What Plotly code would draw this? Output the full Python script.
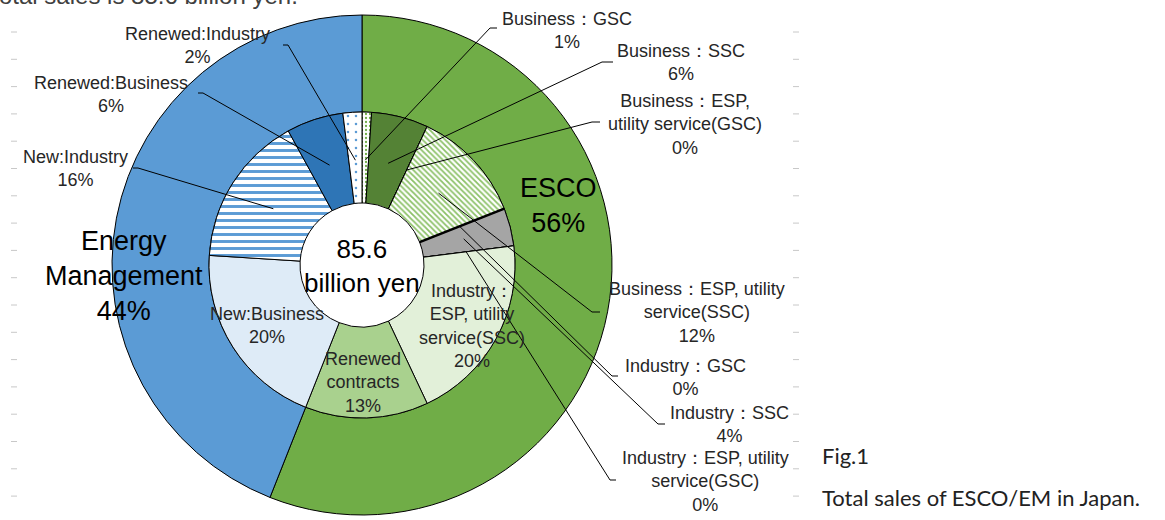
import math
import plotly.graph_objects as go

W, H = 1165, 520

# ---------------- data ----------------
outer_labels = ["ESCO", "Energy Management"]
outer_values = [56, 44]
outer_colors = ["#70AD47", "#5B9BD5"]

inner_labels = [
    "Business：GSC",
    "Business：SSC",
    "Business：ESP, utility service(GSC)",
    "Business：ESP, utility service(SSC)",
    "Industry：GSC",
    "Industry：SSC",
    "Industry：ESP, utility service(GSC)",
    "Industry：ESP, utility service(SSC)",
    "Renewed contracts",
    "New:Business",
    "New:Industry",
    "Renewed:Business",
    "Renewed:Industry",
]
inner_values = [1, 6, 0, 12, 0, 4, 0, 20, 13, 20, 16, 6, 2]
inner_colors = ["#FFFFFF", "#548235", "#FFFFFF", "#FFFFFF", "#FFFFFF", "#A5A5A5", "#FFFFFF",
                "#E2F0D9", "#A9D18E", "#DEEBF7", "#FFFFFF", "#2E75B6", "#FFFFFF"]
pattern_shapes = [".", "", "", "\\", "", "", "", "", "", "", "-", "", "."]
pattern_fg = ["#70AD47", "#548235", "#70AD47", "#8CC168", "#A5A5A5", "#A5A5A5", "#E2F0D9",
              "#E2F0D9", "#A9D18E", "#DEEBF7", "#5B9BD5", "#2E75B6", "#5B9BD5"]
pattern_size = [4, 8, 8, 4, 8, 8, 8, 8, 8, 8, 7, 8, 8]
pattern_solidity = [0.25, 0.3, 0.3, 0.45, 0.3, 0.3, 0.3, 0.3, 0.3, 0.3, 0.42, 0.3, 0.08]

# label texts (display)
inner_label_text = [
    "Business：GSC",
    "Business：SSC",
    "Business：ESP,<br>utility service(GSC)",
    "Business：ESP, utility<br>service(SSC)",
    "Industry：GSC",
    "Industry：SSC",
    "Industry：ESP, utility<br>service(GSC)",
    "Industry：<br>ESP, utility<br>service(SSC)",
    "Renewed<br>contracts",
    "New:Business",
    "New:Industry",
    "Renewed:Business",
    "Renewed:Industry",
]
center_text = "85.6<br>billion yen"
title_fragment = "Total sales is 85.6 billion yen."
fig_caption_1 = "Fig.1"
fig_caption_2 = "Total sales of ESCO/EM in Japan."

# ---------------- layout geometry (pixels) ----------------
CX, CY = 362, 265
R_OUT, R_MID, R_HOLE, R_ANCHOR = 250, 153, 62, 105
FONT = "Liberation Sans, Arial, sans-serif"
TXT = "#262626"
LABEL_SIZE = 18


def px(x, y):
    return x / W, 1 - y / H


def dom(r):
    return dict(x=[(CX - r) / W, (CX + r) / W], y=[(H - CY - r) / H, (H - CY + r) / H])


def polar(frac, r):
    a = 2 * math.pi * frac
    return CX + r * math.sin(a), CY - r * math.cos(a)


total = sum(inner_values)
cum = []
c = 0
for v in inner_values:
    cum.append(c)
    c += v

fig = go.Figure()
fig.add_trace(go.Pie(
    labels=outer_labels, values=outer_values, sort=False, direction="clockwise", rotation=0,
    hole=R_MID / R_OUT, domain=dom(R_OUT), textinfo="none", hoverinfo="skip",
    marker=dict(colors=outer_colors, line=dict(color="#000000", width=1)), showlegend=False,
))
fig.add_trace(go.Pie(
    labels=inner_labels, values=inner_values, sort=False, direction="clockwise", rotation=0,
    hole=R_HOLE / R_MID, domain=dom(R_MID), textinfo="none", hoverinfo="skip",
    marker=dict(colors=inner_colors, line=dict(color="#000000", width=1),
                pattern=dict(shape=pattern_shapes, fgcolor=pattern_fg, bgcolor=inner_colors,
                             size=pattern_size, solidity=pattern_solidity, fillmode="replace")),
    showlegend=False,
))

shapes = []
annotations = []

# thick boundary at zero-valued Industry：GSC slice
i_gsc = inner_labels.index("Industry：GSC")
x0, y0 = polar(cum[i_gsc] / total, R_HOLE)
x1, y1 = polar(cum[i_gsc] / total, R_MID)
shapes.append(dict(type="line", xref="paper", yref="paper", x0=x0 / W, y0=1 - y0 / H,
                   x1=x1 / W, y1=1 - y1 / H, line=dict(color="#000000", width=2.5)))

# outside labels: (index, text center x, text center y, elbow start, elbow corner)
outside = [
    (0, 567, 30, (497, 28), (490, 28)),
    (1, 681, 62, (613, 62), (602, 62)),
    (2, 685, 124, (600, 122), (592, 122)),
    (3, 697, 312, (600, 312), (592, 312)),
    (4, 685, 377, (618, 376), (612, 376)),
    (5, 729, 424, (665, 424), (658, 424)),
    (6, 705, 481, (616, 480), (610, 480)),
    (12, 198, 45, (283, 45), (288, 45)),
    (11, 111, 94, (198, 93), (203, 93)),
    (10, 75, 169, (133, 168), (138, 168)),
]
for idx, tx, ty, e0, e1 in outside:
    ax_, ay_ = polar((cum[idx] + inner_values[idx] / 2) / total, R_ANCHOR)
    p0 = px(*e0)
    p1 = px(*e1)
    p2 = px(ax_, ay_)
    shapes.append(dict(type="path", xref="paper", yref="paper",
                       path=f"M {p0[0]} {p0[1]} L {p1[0]} {p1[1]} L {p2[0]} {p2[1]}",
                       line=dict(color="#000000", width=1)))
    x, y = px(tx, ty)
    annotations.append(dict(x=x, y=y, xref="paper", yref="paper", showarrow=False,
                            text=f"{inner_label_text[idx]}<br>{inner_values[idx]}%",
                            font=dict(family=FONT, size=LABEL_SIZE, color=TXT),
                            xanchor="center", yanchor="middle", align="center"))

# inside labels
inside = [(7, 472, 326), (8, 363, 382), (9, 267, 325)]
for idx, tx, ty in inside:
    x, y = px(tx, ty)
    annotations.append(dict(x=x, y=y, xref="paper", yref="paper", showarrow=False,
                            text=f"{inner_label_text[idx]}<br>{inner_values[idx]}%",
                            font=dict(family=FONT, size=LABEL_SIZE, color=TXT),
                            xanchor="center", yanchor="middle", align="center"))

# outer ring labels
for val, tx, ty, txt in [(outer_values[0], 558, 206, "ESCO"),
                         (outer_values[1], 124, 276, "Energy<br>Management")]:
    x, y = px(tx, ty)
    annotations.append(dict(x=x, y=y, xref="paper", yref="paper", showarrow=False,
                            text=f"{txt}<br>{val}%",
                            font=dict(family=FONT, size=27, color="#000000"),
                            xanchor="center", yanchor="middle", align="center"))

# center text
x, y = px(CX, 266)
annotations.append(dict(x=x, y=y, xref="paper", yref="paper", showarrow=False, text=center_text,
                        font=dict(family=FONT, size=26, color="#000000"),
                        xanchor="center", yanchor="middle", align="center"))

# cut-off title fragment at the very top (only the bottoms of its glyphs are on the page)
x, y = px(300, 11)
annotations.append(dict(x=x, y=y, xref="paper", yref="paper", showarrow=False, text=title_fragment,
                        font=dict(family=FONT, size=24, color="#404040"),
                        xanchor="right", yanchor="bottom"))

# captions
for txt, ty in [(fig_caption_1, 455), (fig_caption_2, 497)]:
    x, y = px(820, ty)
    annotations.append(dict(x=x, y=y, xref="paper", yref="paper", showarrow=False, text=txt,
                            font=dict(family="Lato, Open Sans, sans-serif", size=22, color="#222222"),
                            xanchor="left", yanchor="middle"))

# faint dashes (page decoration)
for k in range(18):
    yy = 32 + 27.3 * k
    for xa, xb in [(11, 17), (793, 799)]:
        a = px(xa, yy)
        b = px(xb, yy)
        shapes.append(dict(type="line", xref="paper", yref="paper", x0=a[0], y0=a[1], x1=b[0], y1=b[1],
                           line=dict(color="#C8C8C8", width=1)))

fig.update_layout(
    width=W, height=H, margin=dict(l=0, r=0, t=0, b=0),
    paper_bgcolor="#FFFFFF", plot_bgcolor="#FFFFFF",
    shapes=shapes, annotations=annotations, showlegend=False,
)
fig.write_html("out.html", config={"displayModeBar": False},
               post_script="document.body.style.margin='0';")
